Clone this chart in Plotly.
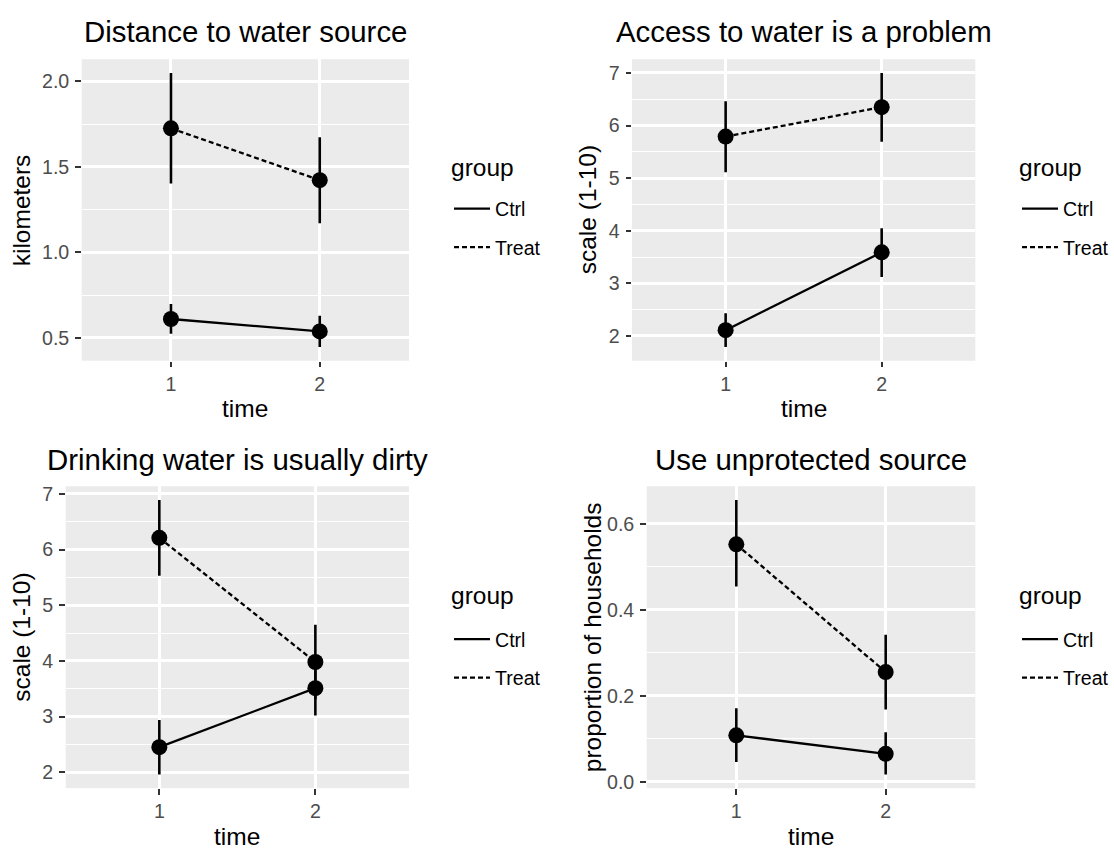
import plotly.graph_objects as go

W, H = 1114, 849

time = [1, 2]
group_names = ["Ctrl", "Treat"]
legend_title = "group"

panel_titles = ["Distance to water source", "Access to water is a problem",
                "Drinking water is usually dirty", "Use unprotected source"]
y_titles = ["kilometers", "scale (1-10)", "scale (1-10)", "proportion of households"]
x_title = "time"

# Distance to water source (km)
dist_ctrl = [0.611, 0.538]
dist_ctrl_lo = [0.524, 0.447]
dist_ctrl_hi = [0.698, 0.630]
dist_treat = [1.726, 1.423]
dist_treat_lo = [1.403, 1.171]
dist_treat_hi = [2.050, 1.674]

# Access to water is a problem (scale 1-10)
access_ctrl = [2.11, 3.59]
access_ctrl_lo = [1.79, 3.12]
access_ctrl_hi = [2.43, 4.05]
access_treat = [5.79, 6.35]
access_treat_lo = [5.11, 5.69]
access_treat_hi = [6.46, 7.00]

# Drinking water is usually dirty (scale 1-10)
dirty_ctrl = [2.45, 3.51]
dirty_ctrl_lo = [1.96, 3.02]
dirty_ctrl_hi = [2.94, 4.00]
dirty_treat = [6.21, 3.98]
dirty_treat_lo = [5.53, 3.31]
dirty_treat_hi = [6.89, 4.65]

# Use unprotected source (proportion of households)
unprot_ctrl = [0.108, 0.065]
unprot_ctrl_lo = [0.046, 0.017]
unprot_ctrl_hi = [0.171, 0.115]
unprot_treat = [0.552, 0.255]
unprot_treat_lo = [0.454, 0.168]
unprot_treat_hi = [0.655, 0.342]

yticks = [[0.5, 1.0, 1.5, 2.0], [2, 3, 4, 5, 6, 7], [2, 3, 4, 5, 6, 7], [0.0, 0.2, 0.4, 0.6]]
ytick_labels = [["0.5", "1.0", "1.5", "2.0"], ["2", "3", "4", "5", "6", "7"],
                ["2", "3", "4", "5", "6", "7"], ["0.0", "0.2", "0.4", "0.6"]]
xtick_labels = ["1", "2"]

panels = [
    ((dist_ctrl, dist_ctrl_lo, dist_ctrl_hi), (dist_treat, dist_treat_lo, dist_treat_hi)),
    ((access_ctrl, access_ctrl_lo, access_ctrl_hi), (access_treat, access_treat_lo, access_treat_hi)),
    ((dirty_ctrl, dirty_ctrl_lo, dirty_ctrl_hi), (dirty_treat, dirty_treat_lo, dirty_treat_hi)),
    ((unprot_ctrl, unprot_ctrl_lo, unprot_ctrl_hi), (unprot_treat, unprot_treat_lo, unprot_treat_hi)),
]

# panel boxes in pixels: left, right, top, bottom
boxes = [(81.7, 409.0, 56.7, 360.7), (632.0, 975.3, 56.7, 360.7),
         (65.7, 409.0, 487.3, 791.7), (646.7, 975.3, 487.3, 791.7)]
title_y = [29, 29, 460, 460]
xtitle_y = [409, 409, 840, 840]
ytitle_x = [22.3, 588.3, 21.5, 592.0]
legend_title_pos = [(449, 166), (1016.5, 166), (449, 597), (1016.5, 597)]
legend_pos = [(449, 188), (1017, 188), (449, 622), (1017, 622)]

FONT = "Liberation Sans, Arial, Helvetica, sans-serif"
BASE = 24.5
dashes = ["solid", "5px,3px"]

fig = go.Figure()
layout = dict(
    width=W, height=H, margin=dict(l=0, r=0, t=0, b=0),
    paper_bgcolor="white", plot_bgcolor="#EBEBEB",
    font=dict(family=FONT, color="black"),
    annotations=[],
)

def px(x):
    return x / W

def py(y):
    return 1 - y / H

for i, (grp, box) in enumerate(zip(panels, boxes)):
    n = i + 1
    xa = "x" if n == 1 else f"x{n}"
    ya = "y" if n == 1 else f"y{n}"
    lg = "legend" if n == 1 else f"legend{n}"
    # ggplot-like 5% expansion of the data range
    lo_all = min(min(g[1]) for g in grp)
    hi_all = max(max(g[2]) for g in grp)
    pad = 0.05 * (hi_all - lo_all)
    yr = [lo_all - pad, hi_all + pad]
    for gi, (vals, lo, hi) in enumerate(grp):
        fig.add_trace(go.Scatter(
            x=time, y=vals, mode="lines", name=group_names[gi],
            line=dict(color="black", width=2.3, dash=dashes[gi]),
            xaxis=xa, yaxis=ya, legend=lg, legendgroup=f"p{n}g{gi}",
            showlegend=True, hoverinfo="skip"))
    for gi, (vals, lo, hi) in enumerate(grp):
        fig.add_trace(go.Scatter(
            x=time, y=vals, mode="markers", name=group_names[gi],
            marker=dict(color="black", size=16, line=dict(width=0)),
            error_y=dict(type="data", symmetric=False,
                         array=[h - v for h, v in zip(hi, vals)],
                         arrayminus=[v - l for v, l in zip(vals, lo)],
                         width=0, thickness=2.6, color="black"),
            xaxis=xa, yaxis=ya, showlegend=False, hoverinfo="skip"))
    l, r, t, b = box
    major = yticks[i]
    step = major[1] - major[0]
    minor_vals = [m + step / 2 for m in major[:-1]]
    axis_common = dict(
        showgrid=True, gridcolor="white", gridwidth=2.6, zeroline=False,
        showline=False, ticks="outside", ticklen=5.5, tickwidth=2,
        tickcolor="#333333", tickfont=dict(family=FONT, size=BASE * 0.8, color="#4D4D4D"),
        fixedrange=True,
    )
    layout["xaxis" if n == 1 else f"xaxis{n}"] = dict(
        domain=[px(l), px(r)], range=[0.4, 2.6], tickmode="array",
        tickvals=time, ticktext=xtick_labels, anchor=ya, ticklabelstandoff=0,
        **axis_common)
    layout["yaxis" if n == 1 else f"yaxis{n}"] = dict(
        domain=[py(b), py(t)], range=yr, tickmode="array", tickvals=major,
        ticktext=ytick_labels[i], anchor=xa, ticklabelstandoff=2,
        minor=dict(tickmode="array", tickvals=minor_vals, showgrid=True,
                   gridcolor="white", gridwidth=1.3, ticks=""),
        **axis_common)
    lx, ly = legend_pos[i]
    layout[lg] = dict(
        x=px(lx), y=py(ly), xanchor="left", yanchor="top",
        bgcolor="rgba(0,0,0,0)", borderwidth=0,
        font=dict(family=FONT, size=BASE * 0.8, color="black"),
        itemwidth=36, tracegroupgap=10, traceorder="grouped",
    )
    tx, ty = legend_title_pos[i]
    layout["annotations"].append(dict(
        text=legend_title, x=px(tx), y=py(ty), xref="paper", yref="paper",
        xanchor="left", yanchor="middle", showarrow=False,
        font=dict(family=FONT, size=BASE, color="black")))
    cx = (l + r) / 2
    layout["annotations"].append(dict(
        text=panel_titles[i], x=px(cx), y=py(title_y[i]), xref="paper", yref="paper",
        xanchor="center", yanchor="middle", showarrow=False,
        font=dict(family=FONT, size=BASE * 1.2, color="black")))
    layout["annotations"].append(dict(
        text=x_title, x=px(cx), y=py(xtitle_y[i]), xref="paper", yref="paper",
        xanchor="center", yanchor="middle", showarrow=False,
        font=dict(family=FONT, size=BASE, color="black")))
    layout["annotations"].append(dict(
        text=y_titles[i], x=px(ytitle_x[i]), y=py((t + b) / 2), xref="paper", yref="paper",
        xanchor="center", yanchor="middle", showarrow=False, textangle=-90,
        font=dict(family=FONT, size=BASE, color="black")))

fig.update_layout(**layout)
fig.write_html("out.html")
